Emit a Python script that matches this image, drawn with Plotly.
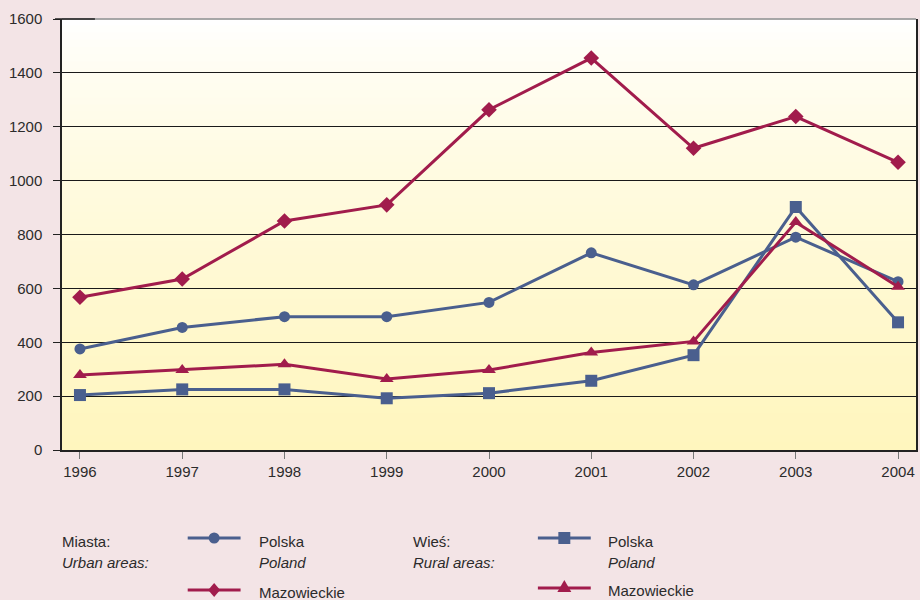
import plotly.graph_objects as go

#########
# DATA  #
#########

years = [1996, 1997, 1998, 1999, 2000, 2001, 2002, 2003, 2004]

urban_polska = [375, 455, 495, 495, 548, 732, 613, 790, 625]
urban_mazowieckie = [567, 635, 850, 910, 1263, 1455, 1120, 1238, 1068]
rural_polska = [204, 225, 225, 192, 211, 257, 352, 902, 474]
rural_mazowieckie = [278, 297, 318, 264, 297, 362, 403, 846, 606]

y_ticks = [0, 200, 400, 600, 800, 1000, 1200, 1400, 1600]

##########
# STYLES #
##########

BLUE = "#4a5f8e"
CRIMSON = "#a11c4c"
TEXT = "#2b2b2b"
PAPER_BG = "#f3e4e6"
FONT = "Liberation Sans, Arial, sans-serif"

W, H = 920, 600
L, R, T, B = 62, 2, 19, 150
PLOT_W, PLOT_H = W - L - R, H - T - B


def px(x, y):
    """pixel position -> paper coordinates"""
    return (x - L) / PLOT_W, (H - B - y) / PLOT_H


fig = go.Figure()

series = [
    (urban_polska, BLUE, "circle"),
    (rural_polska, BLUE, "square"),
    (urban_mazowieckie, CRIMSON, "diamond"),
    (rural_mazowieckie, CRIMSON, "triangle-up"),
]
for values, color, symbol in series:
    fig.add_trace(
        go.Scatter(
            x=years,
            y=values,
            mode="lines+markers",
            line=dict(color=color, width=3),
            marker=dict(symbol=symbol, color=color, size=12 if symbol != "circle" else 11),
            showlegend=False,
            hoverinfo="x+y",
        )
    )

shapes = []

# gradient background of the plot area (white -> pale yellow)
N_BANDS = 60
top_rgb, bot_rgb = (255, 255, 255), (255, 246, 190)
for i in range(N_BANDS):
    f = (i / (N_BANDS - 1)) ** 0.75
    c = tuple(round(top_rgb[k] + (bot_rgb[k] - top_rgb[k]) * f) for k in range(3))
    shapes.append(
        dict(
            type="rect", xref="paper", yref="paper", layer="below",
            x0=0, x1=1, y0=1 - (i + 1) / N_BANDS, y1=1 - i / N_BANDS + 0.002,
            fillcolor="rgb(%d,%d,%d)" % c, line=dict(width=0),
        )
    )

# top border grey + small dark segment
shapes.append(dict(type="line", xref="paper", yref="paper", x0=0, x1=1, y0=1, y1=1,
                   line=dict(color="#8a8a8a", width=1.5), layer="above"))
shapes.append(dict(type="line", xref="paper", yref="paper", x0=px(55, 0)[0], x1=px(95, 0)[0],
                   y0=1, y1=1, line=dict(color="#222222", width=1.5), layer="above"))

# custom legend
annotations = []


def add_text(x, y, text, italic=False):
    annotations.append(
        dict(
            xref="paper", yref="paper", x=px(x, y)[0], y=px(x, y)[1],
            text="<i>%s</i>" % text if italic else text,
            showarrow=False, xanchor="left", yanchor="middle",
            font=dict(family=FONT, size=15, color=TEXT),
        )
    )


def add_sample(x0, x1, y, color, symbol):
    a, yy = px(x0, y)
    b, _ = px(x1, y)
    shapes.append(dict(type="line", xref="paper", yref="paper", x0=a, x1=b, y0=yy, y1=yy,
                       line=dict(color=color, width=3), layer="above"))
    cx = (x0 + x1) / 2
    if symbol == "circle":
        p0, p1 = px(cx - 5.5, y + 5.5), px(cx + 5.5, y - 5.5)
        shapes.append(dict(type="circle", xref="paper", yref="paper", x0=p0[0], x1=p1[0],
                           y0=p0[1], y1=p1[1], fillcolor=color, line=dict(width=0)))
    elif symbol == "square":
        p0, p1 = px(cx - 6, y + 6), px(cx + 6, y - 6)
        shapes.append(dict(type="rect", xref="paper", yref="paper", x0=p0[0], x1=p1[0],
                           y0=p0[1], y1=p1[1], fillcolor=color, line=dict(width=0)))
    else:
        if symbol == "diamond":
            pts = [(cx, y - 7), (cx + 6, y), (cx, y + 7), (cx - 6, y)]
        else:
            pts = [(cx, y - 8), (cx + 7, y + 4), (cx - 7, y + 4)]
        path = "M " + " L ".join("%f,%f" % px(*p) for p in pts) + " Z"
        shapes.append(dict(type="path", xref="paper", yref="paper", path=path,
                           fillcolor=color, line=dict(width=0)))


add_text(60, 541, "Miasta:")
add_text(60, 562, "Urban areas:", italic=True)
add_sample(188, 241, 538, BLUE, "circle")
add_text(257, 541, "Polska")
add_text(257, 562, "Poland", italic=True)
add_sample(188, 241, 590, CRIMSON, "diamond")
add_text(257, 592, "Mazowieckie")

add_text(412, 541, "Wieś:")
add_text(412, 562, "Rural areas:", italic=True)
add_sample(539, 592, 538, BLUE, "square")
add_text(607, 541, "Polska")
add_text(607, 562, "Poland", italic=True)
add_sample(539, 592, 588, CRIMSON, "triangle")
add_text(607, 590, "Mazowieckie")

# 1996 sits 18 px right of the left edge, 2004 18 px left of the right edge
x_pad = 18 / 102.5
fig.update_layout(
    width=W,
    height=H,
    margin=dict(l=L, r=R, t=T, b=B),
    paper_bgcolor=PAPER_BG,
    plot_bgcolor="#fefbe0",
    font=dict(family=FONT, size=15, color=TEXT),
    shapes=shapes,
    annotations=annotations,
    showlegend=False,
)

fig.update_xaxes(
    range=[years[0] - x_pad, years[-1] + x_pad],
    tickvals=years,
    ticktext=[str(y) for y in years],
    showgrid=False,
    zeroline=False,
    showline=True,
    linecolor="#222222",
    linewidth=1.5,
    ticks="outside",
    ticklen=7,
    tickcolor="#777777",
    tickfont=dict(family=FONT, size=15, color=TEXT),
)
fig.update_yaxes(
    range=[0, 1600],
    tickvals=y_ticks,
    showgrid=True,
    gridcolor="#1a1a1a",
    gridwidth=1,
    zeroline=False,
    showline=True,
    mirror=True,
    linecolor="#222222",
    linewidth=1.5,
    ticks="outside",
    ticklen=7,
    tickcolor="#222222",
    ticklabelstandoff=8,
    tickfont=dict(family=FONT, size=15, color=TEXT),
)

fig.write_html(
    "out.html",
    config={"displayModeBar": False},
    post_script="document.body.style.margin='0';document.body.style.background='%s';" % PAPER_BG,
)
